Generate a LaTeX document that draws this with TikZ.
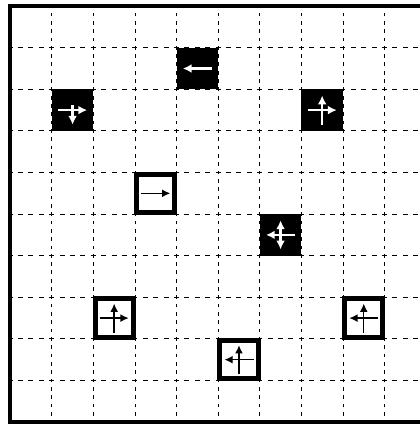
\documentclass[tikz,border=0pt]{standalone}
\usepackage{tikz}
\usetikzlibrary{arrows.meta}

\begin{document}
\begin{tikzpicture}[
    hline/.style={line width=0.6pt, dash pattern=on 1.2mm off 1.3mm, dash phase=0.6mm},
    vline/.style={line width=0.6pt, dash pattern=on 0.9mm off 1.1mm, dash phase=0.45mm},
    frame/.style={line width=2.8pt},
    dark/.style={rectangle, fill=black, minimum size=1cm, inner sep=0pt},
    light/.style={rectangle, draw=black, fill=white, line width=3.4pt, minimum size=0.92cm, inner sep=0pt},
    warrow/.style={white, line width=1.6pt, >={Latex[length=2.1mm,width=2.1mm]}},
    barrow/.style={black, line width=1pt, >={Latex[length=2mm,width=1.9mm]}}
]

\useasboundingbox (-0.245,-0.07) rectangle (9.84,10.147);

% Grid
\foreach \i in {1,...,9} {
    \draw[hline] (0,\i) -- (10,\i);
    \draw[vline] (\i,0) -- (\i,10);
}

% Black cells
\node[dark] (d1) at (4.5,8.5) {};
\node[dark] (d2) at (1.5,7.5) {};
\node[dark] (d3) at (7.5,7.5) {};
\node[dark] (d4) at (6.5,4.5) {};

\draw[warrow, ->] ([xshift=3.5mm]d1.center) -- ([xshift=-3.5mm]d1.center);
\draw[warrow, ->] ([xshift=-3.5mm]d2.center) -- ([xshift=3.5mm]d2.center);
\draw[warrow, ->] ([yshift=1.2mm]d2.center) -- ([yshift=-3.5mm]d2.center);
\draw[warrow, ->] ([xshift=-3.5mm]d3.center) -- ([xshift=3.5mm]d3.center);
\draw[warrow, ->] ([yshift=-3.5mm]d3.center) -- ([yshift=3.5mm]d3.center);
\draw[warrow, ->] ([xshift=3.5mm]d4.center) -- ([xshift=-3.5mm]d4.center);
\draw[warrow, <->] ([yshift=-3.5mm]d4.center) -- ([yshift=3.5mm]d4.center);

% White cells
\node[light] (l1) at (3.5,5.5) {};
\node[light] (l2) at (2.5,2.5) {};
\node[light] (l3) at (8.5,2.5) {};
\node[light] (l4) at (5.5,1.5) {};

\draw[barrow, ->] ([xshift=-3.5mm]l1.center) -- ([xshift=3.5mm]l1.center);
\draw[barrow, ->] ([xshift=-3.5mm]l2.center) -- ([xshift=3.5mm]l2.center);
\draw[barrow, ->] ([yshift=-3.5mm]l2.center) -- ([yshift=3.5mm]l2.center);
\draw[barrow, ->] ([xshift=3.5mm]l3.center) -- ([xshift=-3.5mm]l3.center);
\draw[barrow, ->] ([yshift=-3.5mm]l3.center) -- ([yshift=3.5mm]l3.center);
\draw[barrow, ->] ([xshift=3.5mm]l4.center) -- ([xshift=-3.5mm]l4.center);
\draw[barrow, ->] ([yshift=-3.5mm]l4.center) -- ([yshift=3.5mm]l4.center);

% Border
\draw[frame] (0,0) rectangle (10,10);

\end{tikzpicture}
\end{document}
